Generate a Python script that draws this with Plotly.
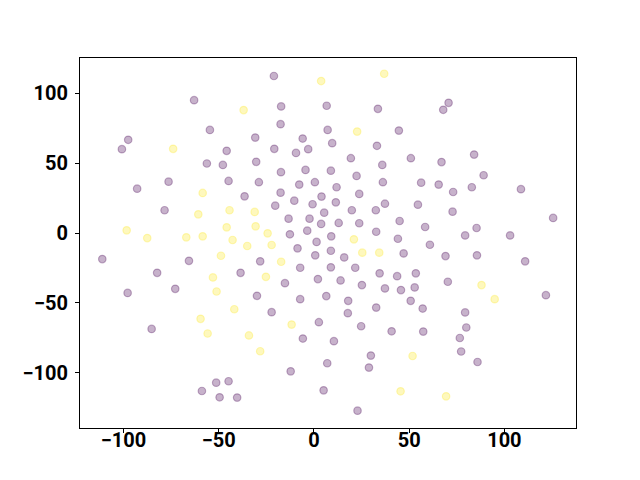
import plotly.graph_objects as go

# class 0 (purple) points
x0 = [-62.9, -54.6, -97.5, -100.8, -45.8, -56.2, -47.8, -76.3, -44.8, -92.8, -36.4, -78.4,
      -21.0, -17.2, 6.7, 33.6, -17.5, 7.2, 44.6, -30.8, -5.9, 9.6, -20.8, -9.4, -3.0, 33.1,
      19.4, 50.9, -30.3, 35.9, -17.3, -4.4, 8.9, 22.4, -28.9, -7.7, 0.5, 36.2, 11.9, -17.5,
      23.8, -20.3, -10.3, -0.7, 4.0, 11.5, 37.3, 5.4, 19.9, 32.5, -13.3, -2.3, 3.8, 13.0,
      23.8, 45.0, -12.6, -3.5, 9.1, 32.7, 44.1, 1.4,
      -111.1, -65.6, -82.3, -38.5, -97.8, -72.8, -85.2, -51.3, -44.8, -58.8, -49.5, -40.3,
      -8.6, 8.9, 47.1, -28.2, 0.7, 15.9, -7.2, 8.9, 21.7, 34.5, 43.7, 53.5, -15.2, 2.1, 14.0,
      25.2, 37.3, 45.7, 52.9, -29.9, -7.2, 6.5, 18.0, 50.8, -22.2, 17.8, 32.7, 2.6, 24.8,
      40.8, -5.8, 10.5, 29.9, 7.0, 28.9, -12.2, 5.1, 22.9,
      60.9, 69.1, 85.6, 110.9, 70.3, 121.8, 57.1, 79.4, 57.4, 80.0, 76.6, 77.3, 85.9,
      70.7, 67.9, 67.0, 84.1, 89.1, 56.3, 65.5, 73.1, 82.9, 108.7, 54.6, 72.8, 125.6, 58.4,
      79.4, 85.4, 103.0]
y0 = [95.2, 73.9, 66.8, 60.1, 58.9, 49.8, 48.8, 36.8, 37.3, 31.8, 26.3, 16.3,
      112.5, 90.7, 91.2, 89.0, 78.0, 73.9, 73.4, 68.4, 67.7, 64.4, 60.3, 57.4, 60.1, 62.5,
      53.6, 53.6, 51.0, 48.8, 43.6, 45.2, 44.7, 40.9, 36.4, 34.7, 36.4, 36.4, 32.8, 28.9,
      28.0, 19.6, 23.2, 20.6, 26.1, 22.0, 21.0, 14.6, 16.3, 16.3, 10.3, 10.3, 6.5, 7.2,
      7.0, 8.6, -0.9, 1.7, -2.4, 0.9, -4.1, -6.4,
      -18.7, -19.9, -28.5, -28.5, -42.9, -40.0, -68.7, -107.2, -106.2, -113.2, -117.7, -117.9,
      -11.0, -12.7, -14.6, -20.3, -16.0, -17.5, -24.9, -24.6, -24.9, -28.9, -30.9, -28.9, -35.9, -33.0, -34.0,
      -37.3, -39.7, -40.9, -39.0, -45.0, -47.4, -45.2, -48.6, -48.6, -56.7, -57.4, -53.4, -63.9, -66.8,
      -70.4, -75.6, -77.5, -87.8, -93.3, -96.4, -99.1, -112.7, -127.3,
      -8.4, -16.5, -16.0, -20.3, -34.9, -44.5, -54.1, -56.9, -70.6, -67.7, -75.2, -84.9, -92.4,
      93.3, 88.3, 50.8, 56.2, 41.4, 36.1, 34.7, 29.4, 32.8, 31.4, 20.3, 15.3, 10.8, 4.3,
      -1.7, 3.6, -1.7]

# class 1 (yellow) points
x1 = [-36.9, -73.9, -58.4, -60.7, -44.3, -98.3, -45.8, -87.5, -67.0, -58.4, -42.7,
      3.8, 36.9, 22.7, -31.1, -30.6, -24.3, 21.0,
      -35.0, -48.8, -53.0, -51.1, -41.8, -59.5, -55.8, -34.1,
      -22.2, 25.4, 34.3, -17.2, -25.2, -11.7, -28.2, 51.8, 45.5,
      88.0, 94.9, 69.4]
y1 = [88.1, 60.3, 28.7, 13.4, 16.3, 1.9, 4.1, -3.6, -3.1, -2.4, -5.0,
      108.9, 114.1, 72.7, 15.1, 4.8, -0.2, -4.5,
      -9.3, -16.3, -31.8, -41.9, -54.6, -61.5, -72.0, -73.4,
      -8.6, -14.1, -14.1, -20.6, -31.4, -65.6, -84.7, -88.1, -113.4,
      -37.3, -47.4, -117.0]

tick_vals = [-100, -50, 0, 50, 100]
tick_text = ["\u2212100", "\u221250", "0", "50", "100"]

purple = "rgba(68,1,84,0.3)"
yellow = "rgba(253,231,37,0.3)"

fig = go.Figure()
fig.add_trace(go.Scatter(x=x0, y=y0, mode="markers",
                         marker=dict(size=7.5, color=purple, line=dict(color=purple, width=1.2))))
fig.add_trace(go.Scatter(x=x1, y=y1, mode="markers",
                         marker=dict(size=7.5, color=yellow, line=dict(color=yellow, width=1.2))))

axis_common = dict(showgrid=False, zeroline=False, showline=True, mirror=True,
                   linecolor="black", linewidth=1, ticks="outside", ticklen=4,
                   tickwidth=1, tickcolor="black", automargin=False,
                   tickfont=dict(family="Roboto", size=20, color="black", weight="bold"),
                   tickvals=tick_vals, ticktext=tick_text)

# the page body adds an 8px offset, so margins are shifted to compensate
fig.update_layout(
    width=640, height=480,
    margin=dict(l=72, r=72, t=50, b=60),
    plot_bgcolor="white", paper_bgcolor="white",
    showlegend=False,
    xaxis=dict(range=[-122.8, 137.6], ticklabelstandoff=-10, **axis_common),
    yaxis=dict(range=[-139.7, 125.4], ticklabelstandoff=3, **axis_common),
)

fig.write_html("out.html")
